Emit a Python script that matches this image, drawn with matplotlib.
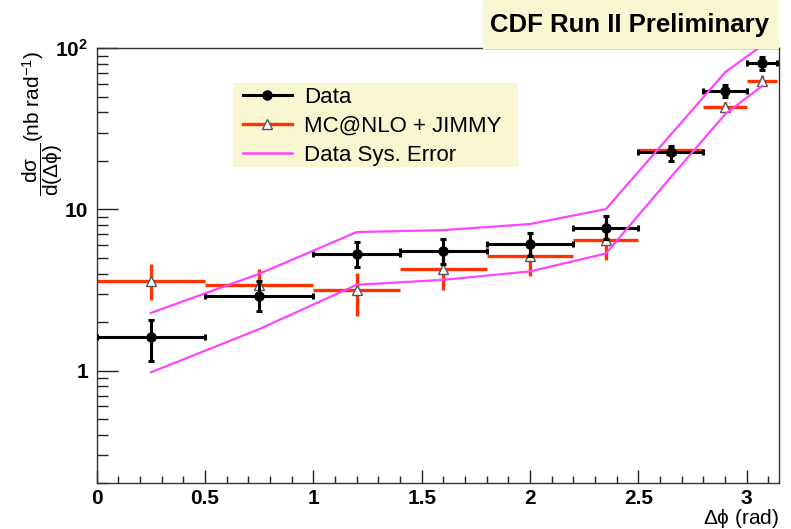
import numpy as np
import matplotlib
matplotlib.use('Agg')
import matplotlib.pyplot as plt
from matplotlib.lines import Line2D
from matplotlib.patches import Rectangle
from matplotlib.ticker import FixedLocator, FixedFormatter, NullFormatter

plt.rcParams['font.family'] = ['Liberation Sans', 'DejaVu Sans']
plt.rcParams['mathtext.fontset'] = 'custom'
plt.rcParams['mathtext.rm'] = 'Liberation Sans'
plt.rcParams['mathtext.it'] = 'Liberation Sans'
plt.rcParams['mathtext.bf'] = 'Liberation Sans:bold'
plt.rcParams['mathtext.sf'] = 'Liberation Sans'

# Delta-phi binning (rad)
bin_lo = [0.0, 0.5, 1.0, 1.4, 1.8, 2.2, 2.5, 2.8, 3.0]
bin_hi = [0.5, 1.0, 1.4, 1.8, 2.2, 2.5, 2.8, 3.0, 3.1416]
bin_x = [0.25, 0.75, 1.2, 1.6, 2.0, 2.35, 2.65, 2.9, 3.07]

# Measured cross section (nb/rad) with statistical error band edges
data_y = [1.61, 2.89, 5.31, 5.55, 6.13, 7.72, 22.6, 54.6, 80.9]
data_hi = [2.07, 3.61, 6.24, 6.55, 7.14, 9.05, 24.8, 59.5, 88.5]
data_lo = [1.14, 2.35, 4.37, 4.61, 5.16, 6.60, 20.0, 50.1, 73.0]

# MC@NLO + JIMMY prediction
mc_y = [3.61, 3.41, 3.15, 4.29, 5.11, 6.44, 23.3, 43.5, 63.1]
mc_hi = [4.59, 4.27, 4.03, 5.80, 6.70, 8.50, 24.3, 46.5, 68.0]
mc_lo = [2.73, 2.73, 2.17, 3.18, 3.88, 4.87, 22.3, 40.5, 58.0]

# Systematic uncertainty envelope on the data
sys_up = [2.28, 3.99, 7.24, 7.45, 8.12, 10.06, 29.2, 71.0, 104.0]
sys_dn = [0.976, 1.81, 3.41, 3.66, 4.13, 5.33, 15.9, 39.0, 58.3]

# Axis tick labels
x_ticks = [0, 0.5, 1, 1.5, 2, 2.5, 3]
x_ticklabels = ['0', '0.5', '1', '1.5', '2', '2.5', '3']
y_ticks = [1, 10, 100]
y_ticklabels = ['1', '10', r'$\mathbf{10^{2}}$']

RED = '#ff3300'
MAG = '#ff44ff'
CREAM = '#f9f6d2'

W, H = 791, 529
fig = plt.figure(figsize=(W / 100, H / 100), dpi=100)
ax = fig.add_axes([96.7 / W, 1 - 483.3 / H, (779.3 - 96.7) / W, (483.3 - 48.3) / H])

x = np.array(bin_x)
xerr = [x - np.array(bin_lo), np.array(bin_hi) - x]

# MC prediction first, data drawn over it
my = np.array(mc_y)
ax.errorbar(x, my, xerr=xerr, yerr=[my - np.array(mc_lo), np.array(mc_hi) - my],
            fmt='none', ecolor=RED, elinewidth=2.4, capsize=0, zorder=2)
ax.plot(x, my, '^', mfc='white', mec='#555555', mew=1.0, ms=7.5, zorder=2.5)

dy = np.array(data_y)
ax.errorbar(x, dy, xerr=xerr, yerr=[dy - np.array(data_lo), np.array(data_hi) - dy],
            fmt='none', ecolor='black', elinewidth=2.2, capsize=2.0, capthick=2.2, zorder=3)
ax.plot(x, dy, 'o', color='black', ms=6.5, zorder=4)

ax.plot(x, sys_up, color=MAG, lw=1.6, zorder=6)
ax.plot(x, sys_dn, color=MAG, lw=1.6, zorder=6)

ax.set_yscale('log')
ax.set_xlim(0, 3.15)
ax.set_ylim(0.2, 100)

ax.xaxis.set_major_locator(FixedLocator(x_ticks))
ax.xaxis.set_major_formatter(FixedFormatter(x_ticklabels))
ax.xaxis.set_minor_locator(FixedLocator([round(0.1 * i, 1) for i in range(32)]))

ax.yaxis.set_major_locator(FixedLocator(y_ticks))
ax.yaxis.set_major_formatter(FixedFormatter(y_ticklabels))
minors = [m * 10.0 ** e for e in (-1, 0, 1) for m in range(2, 10)]
ax.yaxis.set_minor_locator(FixedLocator([v for v in minors if 0.2 <= v <= 100]))
ax.yaxis.set_minor_formatter(NullFormatter())

ax.tick_params(axis='x', which='major', direction='in', length=9.2, width=1.0,
               pad=4, labelsize=15, color='#222222')
ax.tick_params(axis='x', which='minor', direction='in', length=5.2, width=1.0, color='#222222')
ax.tick_params(axis='y', which='major', direction='in', length=14.8, width=1.0,
               pad=6.3, labelsize=15, color='#222222')
ax.tick_params(axis='y', which='minor', direction='in', length=7.6, width=1.0, color='#222222')
for lab in ax.get_xticklabels() + ax.get_yticklabels():
    lab.set_fontweight('bold')

for s in ax.spines.values():
    s.set_color('#333333')
    s.set_linewidth(1.0)

# Y-axis title: fraction and unit set as two rotated pieces
fig.text(42.5 / W, 1 - 169 / H,
         r'$\dfrac{\mathrm{d}\sigma}{\mathrm{d}(\Delta\phi)}$',
         rotation=90, ha='center', va='center', fontsize=15)
fig.text(33 / W, 1 - 96 / H, r'(nb rad$^{-1}$)',
         rotation=90, ha='center', va='center', fontsize=15)
fig.text(779 / W, 1 - 518 / H, r'$\Delta\phi$ (rad)', ha='right', va='center', fontsize=15)

# Legend on a cream panel
fig.add_artist(Rectangle((233 / W, 1 - 167 / H), (518 - 233) / W, (167 - 83) / H,
                         transform=fig.transFigure, facecolor=CREAM, edgecolor='none', zorder=7))
handles = [
    Line2D([], [], color='black', lw=2.2, marker='o', ms=6.5),
    Line2D([], [], color=RED, lw=2.4, marker='^', mfc='white', mec='#555555', mew=1.0, ms=7.5),
    Line2D([], [], color=MAG, lw=1.8),
]
labels = ['Data', 'MC@NLO + JIMMY', 'Data Sys. Error']
leg = fig.legend(handles, labels, loc='upper left', bbox_to_anchor=(243 / W, 1 - 87 / H),
                 frameon=False, fontsize=16, numpoints=1, handlelength=2.2,
                 handletextpad=0.55, labelspacing=0.36, borderpad=0.0, borderaxespad=0.0)
leg.set_zorder(8)

# Title panel
fig.add_artist(Rectangle((482.7 / W, 1 - 49.3 / H), (779.3 - 482.7) / W, 49.3 / H + 0.01,
                         transform=fig.transFigure, facecolor=CREAM, edgecolor='none', zorder=7))
fig.text(629 / W, 1 - 25 / H, 'CDF Run II Preliminary', ha='center', va='center',
         fontsize=18.5, fontweight='bold', zorder=8)

fig.savefig('out.png', dpi=100)
